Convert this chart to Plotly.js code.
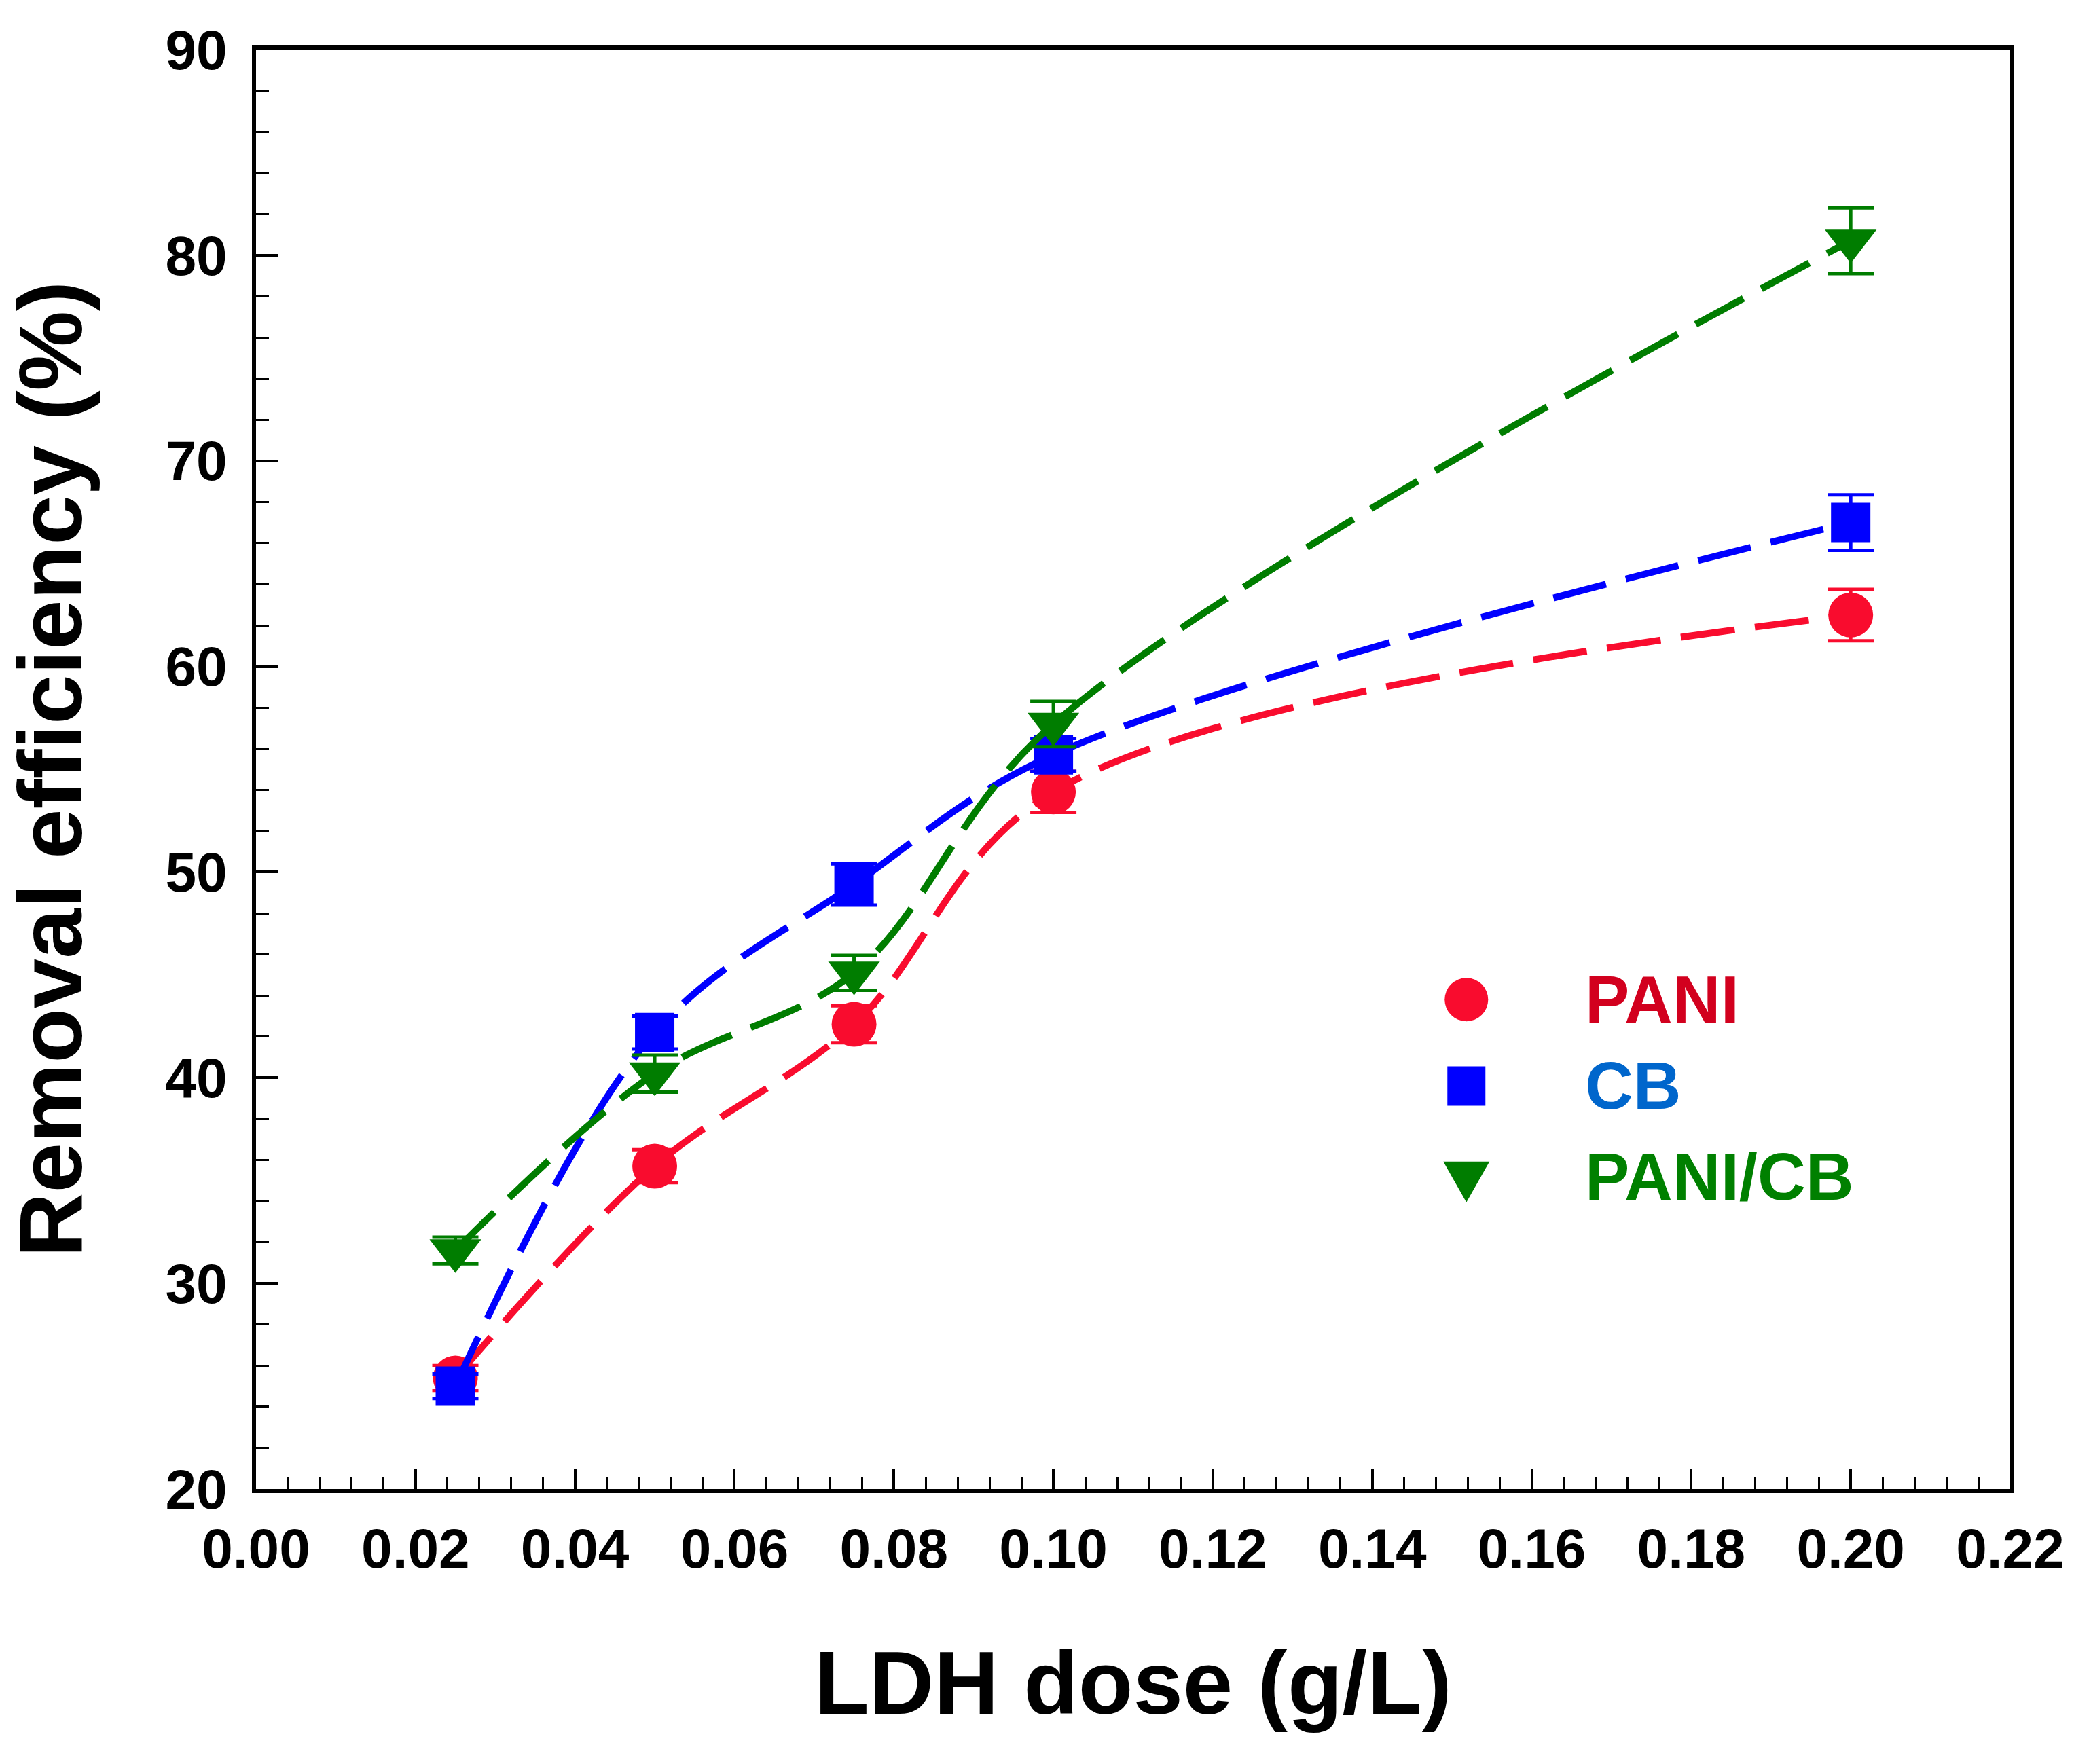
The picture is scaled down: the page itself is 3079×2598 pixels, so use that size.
<!DOCTYPE html>
<html>
<head>
<meta charset="utf-8">
<script src="https://cdn.plot.ly/plotly-3.0.1.min.js"></script>
<style>
html,body{margin:0;padding:0;background:#fff;}
#chart{width:3079px;height:2598px;}
</style>
</head>
<body>
<div id="chart"></div>
<script>
// ---- data ----
var doses = [0.025, 0.05, 0.075, 0.10, 0.20];
var seriesNames = ["PANI", "CB", "PANI/CB"];
var paniValues = [25.4, 35.7, 42.6, 53.9, 62.5];
var paniErrors = [0.6, 0.8, 0.9, 1.0, 1.25];
var cbValues = [25.0, 42.2, 49.4, 55.7, 67.0];
var cbErrors = [0.6, 0.8, 1.0, 0.8, 1.35];
var paniCbValues = [31.6, 40.2, 45.1, 57.2, 80.7];
var paniCbErrors = [0.65, 0.9, 0.85, 1.1, 1.6];
var xTickValues = [0, 0.02, 0.04, 0.06, 0.08, 0.10, 0.12, 0.14, 0.16, 0.18, 0.20, 0.22];
var xTickLabels = ["0.00","0.02","0.04","0.06","0.08","0.10","0.12","0.14","0.16","0.18","0.20","0.22"];
var yTickValues = [20, 30, 40, 50, 60, 70, 80, 90];

// ---- styles ----
var markerColors = ["#f90c2e", "#0000ff", "#007d00"];
var textColors = ["#d2001e", "#0066cc", "#008000"];
var symbols = ["circle", "square", "triangle-down"];
var sizes = [66, 58, 66];
var FONT = "Liberation Sans, Arial, Helvetica, sans-serif";

function makeTrace(i, values, errors) {
  return {
    x: doses, y: values, name: seriesNames[i], type: "scatter", mode: "lines+markers",
    showlegend: false, cliponaxis: false,
    line: {color: markerColors[i], width: 10, dash: "80px,30px", shape: "spline", smoothing: 1},
    marker: {symbol: symbols[i], size: sizes[i], color: markerColors[i], line: {width: 0}},
    error_y: {type: "data", array: errors, visible: true, color: markerColors[i], thickness: 5, width: 34}
  };
}
var traces = [
  makeTrace(0, paniValues, paniErrors),
  makeTrace(1, cbValues, cbErrors),
  makeTrace(2, paniCbValues, paniCbErrors)
];

// legend drawn in data space of the plot
var legX = 0.1518, legTextX = 0.1665;
var legY = [43.8, 39.6, 35.2];
var shapes = [
  {type: "circle", xref: "x", yref: "y", xsizemode: "pixel", ysizemode: "pixel",
   xanchor: legX, yanchor: legY[0], x0: -32, x1: 32, y0: -32, y1: 32,
   fillcolor: markerColors[0], line: {width: 0}},
  {type: "rect", xref: "x", yref: "y", xsizemode: "pixel", ysizemode: "pixel",
   xanchor: legX, yanchor: legY[1], x0: -28, x1: 28, y0: -29, y1: 29,
   fillcolor: markerColors[1], line: {width: 0}},
  {type: "path", xref: "x", yref: "y", xsizemode: "pixel", ysizemode: "pixel",
   xanchor: legX, yanchor: legY[2], path: "M-34,22 L34,22 L0,-38 Z",
   fillcolor: markerColors[2], line: {width: 0}}
];
var annotations = seriesNames.map(function (n, i) {
  return {x: legTextX, y: legY[i], xref: "x", yref: "y", text: n, showarrow: false,
          xanchor: "left", yanchor: "middle",
          font: {family: FONT, size: 98, weight: "bold", color: textColors[i]}};
});

var layout = {
  width: 3079, height: 2598,
  paper_bgcolor: "#ffffff", plot_bgcolor: "#ffffff",
  margin: {l: 377, r: 119, t: 73, b: 405},
  showlegend: false,
  font: {family: FONT, size: 82, color: "#000000", weight: "bold"},
  xaxis: {
    range: [0, 0.22], tickvals: xTickValues, ticktext: xTickLabels,
    ticks: "inside", ticklen: 30, tickwidth: 4, tickcolor: "#000",
    minor: {dtick: 0.004, ticks: "inside", ticklen: 18, tickwidth: 3, tickcolor: "#000", showgrid: false},
    showline: true, linewidth: 6, linecolor: "#000", mirror: true,
    showgrid: false, zeroline: false, ticklabelstandoff: 12,
    tickfont: {family: FONT, size: 82, weight: "bold", color: "#000"},
    title: {text: "LDH dose (g/L)", standoff: 108,
            font: {family: FONT, size: 132, weight: "bold", color: "#000"}}
  },
  yaxis: {
    range: [20, 90], tickvals: yTickValues,
    ticks: "inside", ticklen: 32, tickwidth: 4, tickcolor: "#000",
    minor: {dtick: 2, ticks: "inside", ticklen: 19, tickwidth: 3, tickcolor: "#000", showgrid: false},
    showline: true, linewidth: 6, linecolor: "#000", mirror: true,
    showgrid: false, zeroline: false, ticklabelstandoff: 20,
    tickfont: {family: FONT, size: 82, weight: "bold", color: "#000"},
    title: {text: "Removal efficiency (%)", standoff: 80,
            font: {family: FONT, size: 132, weight: "bold", color: "#000"}}
  },
  shapes: shapes,
  annotations: annotations
};

Plotly.newPlot("chart", traces, layout, {staticPlot: true, displayModeBar: false});
</script>
</body>
</html>
